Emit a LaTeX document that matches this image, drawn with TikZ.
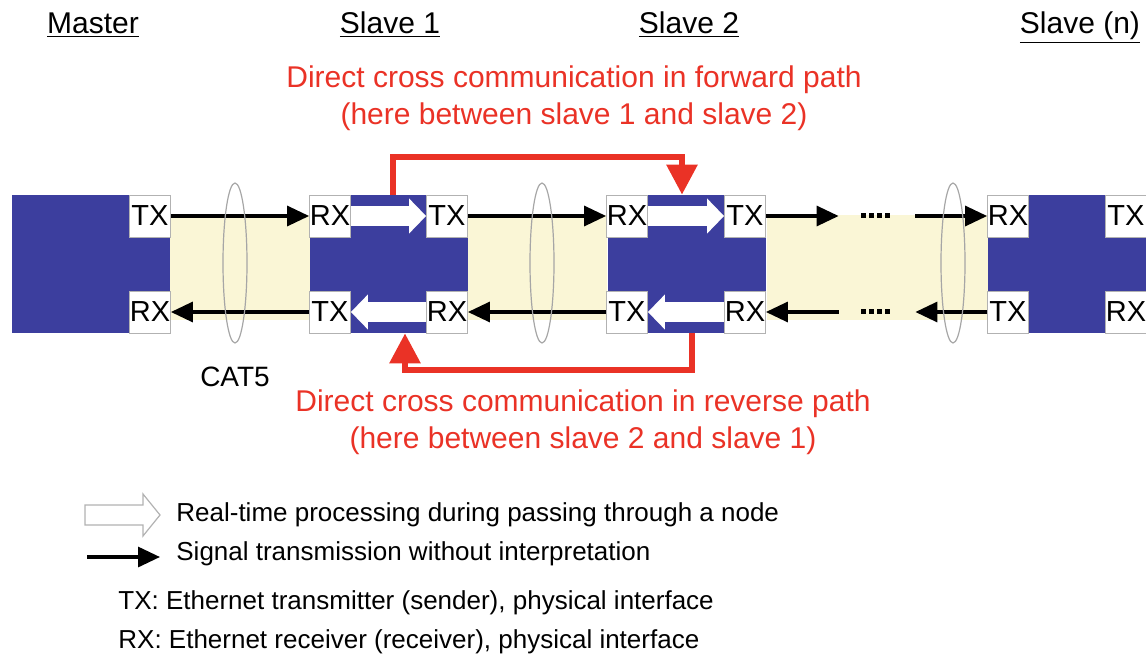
\documentclass[tikz,border=0pt]{standalone}
\usepackage{fontspec}
\setmainfont{Liberation Sans}
\usetikzlibrary{positioning,shapes,arrows.meta,calc}

\definecolor{nodeblue}{RGB}{60,62,158}
\definecolor{cable}{RGB}{250,246,214}
\definecolor{crossred}{RGB}{234,50,38}

\begin{document}
\begin{tikzpicture}[x=.5pt,y=-.5pt,
    block/.style={fill=nodeblue,minimum width=79pt,minimum height=69pt,inner sep=0pt},
    port/.style={draw=gray!60,fill=white,minimum width=20.5pt,minimum height=21pt,inner sep=0pt,font=\fontsize{14.5}{15}\selectfont},
    sig/.style={line width=1.6pt,-{Triangle[length=11pt,width=10pt]}},
    proc/.style={white,line width=10pt,-{Triangle[length=8.5pt,width=17pt]}},
    cross/.style={crossred,line width=3pt,-{Triangle[length=15pt,width=15pt]}},
    cab/.style={ellipse,draw=gray!70,line width=.6pt,minimum width=12pt,minimum height=80pt,inner sep=0pt},
    head/.style={anchor=base,font=\fontsize{15}{18}\selectfont},
    redtxt/.style={text=crossred,align=center,font=\fontsize{15}{18.5}\selectfont},
    gap/.style={inner sep=0pt,minimum width=38pt,minimum height=4pt,font=\bfseries\fontsize{14}{14}\selectfont},
    key/.style={anchor=west,inner sep=0pt,font=\fontsize{13}{15}\selectfont}]

  \useasboundingbox (0,0) rectangle (1146,659);

  % cable sections between the stations
  \fill[cable] (170,215) rectangle (310,320);
  \fill[cable] (468,215) rectangle (607,320);
  \fill[cable] (767,215) rectangle (988,320);

  % stations
  \node[block] (master) at (91,264) {};
  \node[block] (slave1) at (389,264) {};
  \node[block] (slave2) at (687,264) {};
  \node[block] (slaven) at (1067,264) {};

  \node[head] (mlbl) at (93,33) {\underline{Master}};
  \node[head] (s1lbl) at (390,33) {\underline{Slave 1}};
  \node[head] (s2lbl) at (689,33) {\underline{Slave 2}};
  \node[head] (snlbl) at (1080,33) {\underline{Slave (n)}};

  % physical interfaces
  \node[port] (mtx) at (150,216) {TX};
  \node[port] (mrx) at (150,312) {RX};
  \node[port] (s1rx) at (330,216) {RX};
  \node[port] (s1tx) at (447,216) {TX};
  \node[port] (s1txb) at (330,312) {TX};
  \node[port] (s1rxb) at (447,312) {RX};
  \node[port] (s2rx) at (627,216) {RX};
  \node[port] (s2tx) at (745,216) {TX};
  \node[port] (s2txb) at (627,312) {TX};
  \node[port] (s2rxb) at (745,312) {RX};
  \node[port] (snrx) at (1008,216) {RX};
  \node[port] (sntx) at (1126,216) {TX};
  \node[port] (sntxb) at (1008,312) {TX};
  \node[port] (snrxb) at (1126,312) {RX};

  % processing inside the slaves
  \draw[proc] (s1rx) -- (s1tx);
  \draw[proc] (s1rxb) -- (s1txb);
  \draw[proc] (s2rx) -- (s2tx);
  \draw[proc] (s2rxb) -- (s2txb);

  % plain signal transmission
  \node[gap] (dotsa) at (877,216) {};
  \node[gap] (dotsb) at (877,312) {};
  \foreach \i in {0,1,2,3} {
    \fill (861+\i*8,213) rectangle ++(5,5);
    \fill (861+\i*8,309) rectangle ++(5,5);
  }
  \draw[sig] (mtx) -- (s1rx);
  \draw[sig] (s1txb) -- (mrx);
  \draw[sig] (s1tx) -- (s2rx);
  \draw[sig] (s2txb) -- (s1rxb);
  \draw[sig] (s2tx) -- (dotsa);
  \draw[sig] (dotsa) -- (snrx);
  \draw[sig] (sntxb) -- (dotsb);
  \draw[sig] (dotsb) -- (s2rxb);

  % CAT5 cables
  \node[cab] (cab1) at (235,263) {};
  \node[cab] (cab2) at (542,263) {};
  \node[cab] (cab3) at (953,263) {};
  \node[below=8pt of cab1,font=\fontsize{14}{16}\selectfont] (cat) {CAT5};

  % cross communication
  \draw[cross] ([xshift=2pt]slave1.north) -- ++(0,-38) -| ([xshift=-2.5pt]slave2.north);
  \draw[cross] ([xshift=2.5pt]slave2.south) -- ++(0,37) -| ([xshift=8pt]slave1.south);
  \node[redtxt] (fwdtxt) at (574,98) {Direct cross communication in forward path\\(here between slave 1 and slave 2)};
  \node[redtxt] (revtxt) at (583,422) {Direct cross communication in reverse path\\(here between slave 2 and slave 1)};

  % key
  \coordinate (keyproc) at (85,515);
  \draw[gray!60,fill=white,line width=.6pt] (keyproc) ++(0,-10) -- ++(58,0) -- ++(0,-11)
    -- ++(17,21) -- ++(-17,21) -- ++(0,-11) -- ++(-58,0) -- cycle;
  \coordinate (keysiga) at (87,557);
  \coordinate (keysigb) at (160,557);
  \draw[sig] (keysiga) -- (keysigb);
  \node[key] (k1) at (176,515) {Real-time processing during passing through a node};
  \node[key] (k2) at (176,554) {Signal transmission without interpretation};
  \node[key] (k3) at (118,603) {TX: Ethernet transmitter (sender), physical interface};
  \node[key] (k4) at (118,642) {RX: Ethernet receiver (receiver), physical interface};

\end{tikzpicture}
\end{document}
